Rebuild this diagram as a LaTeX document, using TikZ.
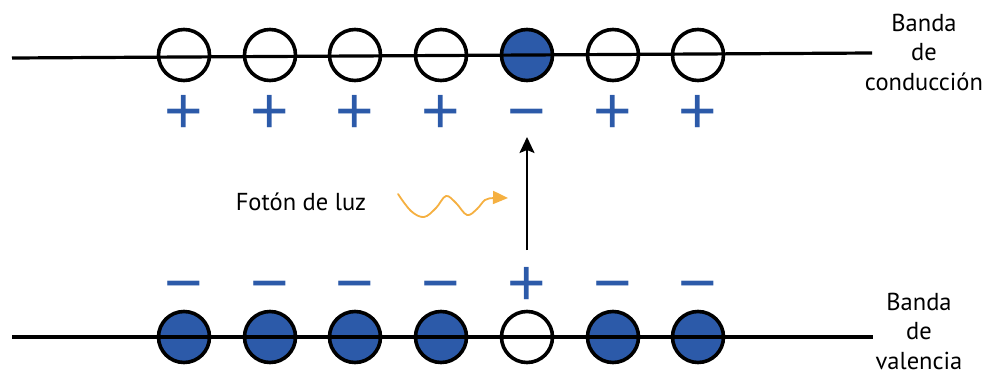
\documentclass[tikz,border=0pt]{standalone}
\usepackage{fontspec}
\setmainfont{PT Sans}
\newfontfamily\signfont{Liberation Sans}
\usetikzlibrary{arrows.meta}
\definecolor{eblue}{HTML}{2C5AA9}
\definecolor{phot}{HTML}{F5B041}
\begin{document}
\begin{tikzpicture}[x=1pt,y=-1pt,
  level/.style={line width=3.2pt},
  hole/.style={circle, draw, line width=3.6pt, minimum size=51pt, inner sep=0pt},
  elec/.style={hole, fill=eblue},
  sign/.style={text=eblue, font=\signfont\fontsize{66}{66}\selectfont, inner sep=0pt, anchor=base},
  lbl/.style={font=\fontsize{24.5}{29.5}\selectfont, align=center, inner sep=0pt}]
\useasboundingbox (0,0) rectangle (985,375);
% conduction band
\node[hole] (t1) at (184,55) {};
\node[hole] (t2) at (270,55) {};
\node[hole] (t3) at (355,55) {};
\node[hole] (t4) at (441,55) {};
\node[elec] (t5) at (527,55) {};
\node[hole] (t6) at (613,55) {};
\node[hole] (t7) at (698,55) {};
% valence band
\node[elec] (b1) at (184,337) {};
\node[elec] (b2) at (270,337) {};
\node[elec] (b3) at (355,337) {};
\node[elec] (b4) at (441,337) {};
\node[hole] (b5) at (527,337) {};
\node[elec] (b6) at (613,337) {};
\node[elec] (b7) at (698,337) {};
% band lines
\coordinate (tl) at (12,58);
\coordinate (tr) at (872,53);
\coordinate (bl) at (12,337);
\coordinate (br) at (873,337);
\draw[level] (tl) -- (tr);
\draw[level] (bl) -- (br);
% charges
\node[sign] (s1) at (184,133) {+};
\node[sign] (s2) at (270,133) {+};
\node[sign] (s3) at (355,133) {+};
\node[sign] (s4) at (441,133) {+};
\node[sign] (s5) at (527,133) {−};
\node[sign] (s6) at (613,133) {+};
\node[sign] (s7) at (698,133) {+};
\node[sign] (r1) at (184,305) {−};
\node[sign] (r2) at (270,305) {−};
\node[sign] (r3) at (355,305) {−};
\node[sign] (r4) at (441,305) {−};
\node[sign] (r5) at (527,305) {+};
\node[sign] (r6) at (613,305) {−};
\node[sign] (r7) at (698,305) {−};
% labels
\node[lbl] (lc) at (924,52) {Banda\\de\\conducción};
\node[lbl] (lv) at (919,331) {Banda\\de\\valencia};
\node[lbl] (lf) at (301,202) {Fotón de luz};
% excitation arrow
\coordinate (a0) at (527,250);
\coordinate (a1) at (527,137);
\draw[line width=2pt, -{Stealth[length=16pt,width=15pt,inset=3pt]}] (a0) -- (a1);
% photon
\draw[phot, line width=1.8pt, line cap=round, -{Triangle[length=15pt,width=13pt]}]
  plot[smooth, tension=0.6] coordinates {(398,194) (411,211) (424,217) (436,208) (446,196) (456,203) (467,215) (477,209) (485,200) (494,198) (508,198)};
\end{tikzpicture}
\end{document}
